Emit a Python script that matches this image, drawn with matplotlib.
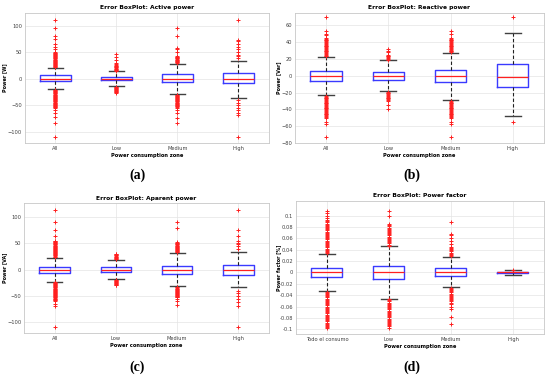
import matplotlib.pyplot as plt

# Zone labels
ZONES = ["All", "Low", "Medium", "High"]
ZONES_PF = ["Todo el consumo", "Low", "Medium", "High"]

# Active power [W]: q1, median, q3, whisker low, whisker high
active_q1 = [-5, -3, -7, -9]
active_med = [0, 0, 0, 0]
active_q3 = [6, 4, 8, 10]
active_lo = [-20, -14, -29, -36]
active_hi = [20, 14, 28, 34]
active_out = [
    [21, 22, 23, 24, 25, 26, 27, 28, 29, 30, 31, 32, 33, 34, 35, 36, 37, 38, 39, 40, 41, 42, 43, 44, 45, 46, 47, 48, 49, 50,
     55, 60, 65, 75, 80, 95, 110,
     -21, -22, -23, -24, -25, -26, -27, -28, -29, -30, -31, -32, -33, -34, -35, -36, -37, -38, -39, -40, -41, -42, -43, -44,
     -45, -46, -47, -48, -49, -50, -51, -52, -53, -54, -55, -60, -65, -73, -83, -110],
    [15, 16, 17, 18, 19, 20, 21, 22, 23, 24, 25, 27, 30, 35, 40, 47,
     -15, -16, -17, -18, -19, -20, -21, -22, -23, -24, -25, -26, -27],
    [30, 31, 32, 33, 34, 35, 36, 37, 38, 39, 40, 41, 42, 50, 55, 58, 80, 95,
     -30, -31, -32, -33, -34, -35, -36, -37, -38, -39, -40, -41, -42, -43, -44, -45, -46, -47, -48, -49, -50, -51, -52,
     -53, -55, -60, -65, -75, -83],
    [38, 42, 45, 50, 55, 60, 65, 70, 72, 110,
     -40, -45, -50, -55, -60, -65, -68, -110],
]

# Reactive power [Var]
reactive_q1 = [-6, -4.5, -8, -14]
reactive_med = [-0.5, 0, -0.5, -1]
reactive_q3 = [6, 5, 6.5, 13.5]
reactive_lo = [-23, -18, -29, -47.5]
reactive_hi = [22.5, 18.5, 27.5, 51]
reactive_out = [
    [23, 24, 25, 26, 27, 28, 29, 30, 31, 32, 33, 34, 35, 36, 37, 38, 39, 40, 41, 42, 43, 44, 45, 48, 50, 53, 70,
     -24, -25, -26, -27, -28, -29, -30, -31, -32, -33, -34, -35, -36, -37, -38, -39, -40, -41, -42, -43, -44, -45,
     -46, -47, -48, -49, -50, -55, -58, -73],
    [19, 20, 21, 22, 23, 24, 25, 28, 30, 32,
     -19, -20, -21, -22, -23, -24, -25, -26, -27, -28, -29, -30, -35, -40],
    [28, 29, 30, 31, 32, 33, 34, 35, 36, 37, 38, 39, 40, 41, 42, 43, 44, 45, 50, 53,
     -30, -31, -32, -33, -34, -35, -36, -37, -38, -39, -40, -41, -42, -43, -44, -45, -46, -47, -48, -49, -50,
     -55, -58, -73],
    [70, -55],
]

# Apparent power [VA]
apparent_q1 = [-5.7, -4, -9, -9.5]
apparent_med = [0, 0, 0, 0]
apparent_q3 = [5.7, 5, 7.6, 9]
apparent_lo = [-23, -17, -32, -34]
apparent_hi = [23, 18.4, 31, 34]
apparent_out = [
    [24, 25, 26, 27, 28, 29, 30, 31, 32, 33, 34, 35, 36, 37, 38, 39, 40, 41, 42, 43, 44, 45, 46, 47, 48, 49, 50,
     51, 52, 53, 54, 55, 65, 75, 90, 113,
     -24, -25, -26, -27, -28, -29, -30, -31, -32, -33, -34, -35, -36, -37, -38, -39, -40, -41, -42, -43, -44, -45,
     -46, -47, -48, -49, -50, -51, -52, -53, -54, -55, -56, -57, -58, -60, -65, -70, -110],
    [20, 21, 22, 23, 24, 25, 26, 27, 28, 29, 30,
     -19, -20, -21, -22, -23, -24, -25, -26, -27, -28, -29, -30],
    [33, 34, 35, 36, 37, 38, 39, 40, 41, 42, 43, 44, 45, 46, 47, 48, 49, 50, 51, 52, 80, 90,
     -33, -34, -35, -36, -37, -38, -39, -40, -41, -42, -43, -44, -45, -46, -47, -48, -49, -50, -51, -52, -53, -55,
     -60, -68],
    [40, 45, 48, 50, 55, 65, 75, 113,
     -40, -45, -50, -55, -62, -70, -110],
]

# Power factor [%]
pf_q1 = [-0.008, -0.0117, -0.0065, -0.0015]
pf_med = [0, 0, 0, 0]
pf_q3 = [0.008, 0.0117, 0.007, 0.0015]
pf_lo = [-0.032, -0.046, -0.026, -0.004]
pf_hi = [0.033, 0.046, 0.0275, 0.004]
pf_out = [
    [0.034, 0.036, 0.038, 0.040, 0.042, 0.044, 0.046, 0.048, 0.050, 0.052, 0.054, 0.056, 0.058, 0.060, 0.062,
     0.064, 0.066, 0.068, 0.070, 0.072, 0.074, 0.076, 0.078, 0.080, 0.082, 0.084, 0.086, 0.088, 0.090, 0.093,
     0.096, 0.1, 0.104, 0.108,
     -0.034, -0.036, -0.038, -0.040, -0.042, -0.044, -0.046, -0.048, -0.050, -0.052, -0.054, -0.056, -0.058,
     -0.060, -0.062, -0.064, -0.066, -0.068, -0.070, -0.072, -0.074, -0.076, -0.078, -0.080, -0.082, -0.084,
     -0.086, -0.088, -0.090, -0.092, -0.094, -0.096, -0.097],
    [0.047, 0.049, 0.051, 0.053, 0.055, 0.057, 0.059, 0.061, 0.063, 0.065, 0.067, 0.069, 0.071, 0.073, 0.075,
     0.077, 0.079, 0.081, 0.083, 0.085, 0.1, 0.108,
     -0.047, -0.049, -0.051, -0.053, -0.055, -0.057, -0.059, -0.061, -0.063, -0.065, -0.067, -0.069, -0.071,
     -0.073, -0.075, -0.077, -0.079, -0.081, -0.083, -0.085, -0.087, -0.089, -0.091, -0.093, -0.095, -0.097],
    [0.029, 0.031, 0.033, 0.035, 0.037, 0.039, 0.041, 0.043, 0.045, 0.050, 0.055, 0.060, 0.065, 0.068, 0.088,
     -0.027, -0.029, -0.031, -0.033, -0.035, -0.037, -0.039, -0.041, -0.043, -0.045, -0.047, -0.049, -0.051,
     -0.053, -0.055, -0.060, -0.065, -0.078, -0.090],
    [0.005],
]


def stats(q1, med, q3, lo, hi, out):
    return [dict(q1=q1[i], med=med[i], q3=q3[i], whislo=lo[i], whishi=hi[i], fliers=out[i])
            for i in range(len(q1))]


def draw(ax, st, title, ylabel, labels, ylim, yticks, ylab_x, yticklabels=None):
    ax.bxp(st, positions=[1, 2, 3, 4], widths=0.5, showfliers=True,
           boxprops=dict(color="#3a3aff", linewidth=1.0),
           medianprops=dict(color="#ff2020", linewidth=0.9),
           whiskerprops=dict(color="#202020", linewidth=0.8, linestyle=(0, (3, 2))),
           capprops=dict(color="#404040", linewidth=1.0),
           capwidths=0.25,
           flierprops=dict(marker="+", markersize=2.4, markeredgecolor="#ff2020",
                           markeredgewidth=0.7, linestyle="none"))
    ax.set_xlim(0.5, 4.5)
    ax.set_ylim(*ylim)
    ax.set_yticks(yticks)
    if yticklabels is not None:
        ax.set_yticklabels(yticklabels)
    ax.set_xticks([1, 2, 3, 4])
    ax.set_xticklabels(labels)
    ax.grid(True, color="#e4e4e4", linewidth=0.5)
    ax.set_axisbelow(True)
    for s in ax.spines.values():
        s.set_color("#c8c8c8")
        s.set_linewidth(0.6)
    ax.tick_params(labelsize=3.7, colors="#404040", length=0, pad=2)
    ax.set_title(title, fontsize=4.3, fontweight="bold", pad=2.5)
    ax.set_xlabel("Power consumption zone", fontsize=3.7, fontweight="bold", labelpad=1.5)
    ax.set_ylabel(ylabel, fontsize=3.5, fontweight="bold")
    ax.yaxis.set_label_coords(ylab_x, 0.5)


fig = plt.figure(figsize=(5.5, 3.76), dpi=100)
ax_a = fig.add_axes([0.045, 0.620, 0.444, 0.346])
ax_b = fig.add_axes([0.536, 0.620, 0.453, 0.346])
ax_c = fig.add_axes([0.044, 0.114, 0.445, 0.346])
ax_d = fig.add_axes([0.538, 0.112, 0.451, 0.354])

draw(ax_a, stats(active_q1, active_med, active_q3, active_lo, active_hi, active_out),
     "Error BoxPlot: Active power", "Power [W]", ZONES, (-121, 124), [-100, -50, 0, 50, 100], -0.074)
draw(ax_b, stats(reactive_q1, reactive_med, reactive_q3, reactive_lo, reactive_hi, reactive_out),
     "Error BoxPlot: Reactive power", "Power [Var]", ZONES, (-80, 75),
     [-80, -60, -40, -20, 0, 20, 40, 60], -0.056)
draw(ax_c, stats(apparent_q1, apparent_med, apparent_q3, apparent_lo, apparent_hi, apparent_out),
     "Error BoxPlot: Aparent power", "Power [VA]", ZONES, (-121, 127), [-100, -50, 0, 50, 100], -0.07)
pf_ticks = [-0.1, -0.08, -0.06, -0.04, -0.02, 0, 0.02, 0.04, 0.06, 0.08, 0.1]
draw(ax_d, stats(pf_q1, pf_med, pf_q3, pf_lo, pf_hi, pf_out),
     "Error BoxPlot: Power factor", "Power factor [%]", ZONES_PF, (-0.108, 0.126), pf_ticks, -0.06,
     ["-0.1", "-0.08", "-0.06", "-0.04", "-0.02", "0", "0.02", "0.04", "0.06", "0.08", "0.1"])

for x, y, lab in [(0.25, 0.535, "(a)"), (0.749, 0.535, "(b)"), (0.25, 0.024, "(c)"), (0.749, 0.024, "(d)")]:
    fig.text(x, y, lab, ha="center", va="center", fontsize=10, fontweight="bold", family="Liberation Serif")

fig.savefig("out.png", dpi=100, facecolor="white")
